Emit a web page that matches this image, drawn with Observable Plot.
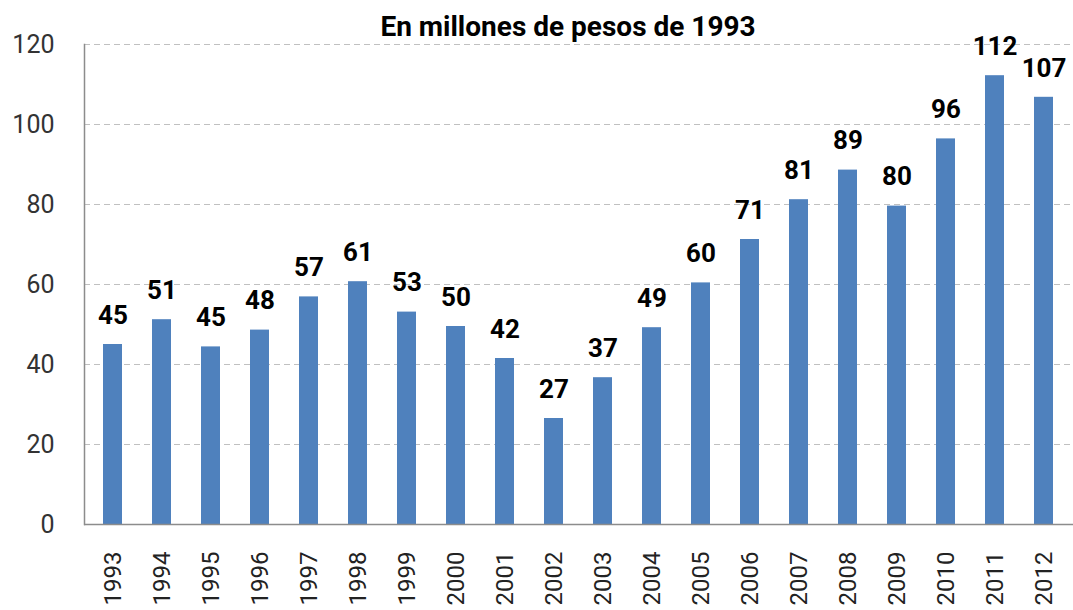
<!DOCTYPE html>
<html>
<head>
<meta charset="utf-8">
<script src="https://cdn.jsdelivr.net/npm/d3@7"></script>
<script src="https://cdn.jsdelivr.net/npm/@observablehq/plot@0.6"></script>
<style>
  html, body { margin: 0; padding: 0; background: #fff; }
  #wrap { position: relative; width: 1073px; height: 610px; overflow: hidden; }
  #title { position: absolute; top: 11px; left: 63px; width: 1010px; text-align: center;
           font-family: Roboto, "Open Sans", sans-serif; font-weight: bold; font-size: 28px; color: #000; line-height: 32px; }
  #chart { position: absolute; top: 0; left: 0; }
</style>
</head>
<body>
<div id="wrap">
  <div id="chart"></div>
  <div id="title">En millones de pesos de 1993</div>
</div>
<script>
const years = ["1993","1994","1995","1996","1997","1998","1999","2000","2001","2002","2003","2004","2005","2006","2007","2008","2009","2010","2011","2012"];
const values = [45, 51.2, 44.4, 48.6, 56.9, 60.7, 53.1, 49.5, 41.5, 26.5, 36.7, 49.2, 60.4, 71.25, 81.2, 88.6, 79.6, 96.4, 112.2, 106.8];
const labels = [45, 51, 45, 48, 57, 61, 53, 50, 42, 27, 37, 49, 60, 71, 81, 89, 80, 96, 112, 107];
const yTicks = [0, 20, 40, 60, 80, 100, 120];

const data = years.map((y, i) => ({year: y, value: values[i], label: labels[i]}));

const chart = Plot.plot({
  width: 1073,
  height: 610,
  marginLeft: 84,
  marginRight: 0,
  marginTop: 44,
  marginBottom: 86,
  style: {fontFamily: "Roboto, 'Open Sans', sans-serif", background: "#fff", overflow: "visible"},
  x: {domain: years, paddingInner: 0.61, paddingOuter: 0.305, label: null},
  y: {domain: [0, 120], label: null},
  marks: [
    Plot.ruleY(yTicks.filter(d => d > 0), {stroke: "#c0c0c0", strokeDasharray: "6,4", strokeWidth: 1}),
    Plot.barY(data, {x: "year", y: "value", fill: "#4F81BD"}),
    Plot.frame({anchor: "left", stroke: "#8c8c8c", strokeWidth: 1.5}),
    Plot.ruleY([0], {stroke: "#8c8c8c", strokeWidth: 1.5}),
    Plot.text(data, {x: "year", y: "value", text: "label", dy: -29, fontSize: 26, fontWeight: "bold", fill: "#000"}),
    Plot.axisY({ticks: yTicks, tickSize: 0, tickPadding: 30, fontSize: 25, fill: "#333", tickFormat: d => String(d)}),
    Plot.axisX({tickSize: 0, tickPadding: 27, tickRotate: -90, fontSize: 24, fill: "#222"})
  ]
});
document.getElementById("chart").appendChild(chart);
</script>
</body>
</html>
